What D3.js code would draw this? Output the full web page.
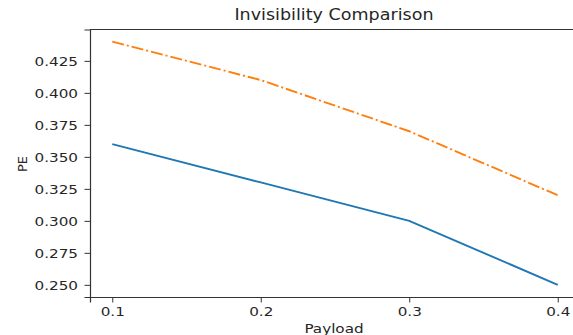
<!DOCTYPE html>
<html lang="en">
<head>
    <meta charset="UTF-8">
    <title>Invisibility Comparison</title>
    <script src="https://d3js.org/d3.v7.min.js"></script>
    <style>
        body {margin: 0; background: white;}
        text {font-family: "DejaVu Sans", sans-serif; fill: #262626;}
    </style>
</head>
<body>
<script>
    const width = 573;
    const height = 335;

    // data
    const payload = [0.1, 0.2, 0.3, 0.4];
    const peBlue = [0.36, 0.33, 0.30, 0.25];
    const peOrange = [0.44, 0.41, 0.37, 0.32];
    const xTicks = [0.1, 0.2, 0.3, 0.4];
    const yTicks = [0.25, 0.275, 0.3, 0.325, 0.35, 0.375, 0.4, 0.425];

    const stretch = 1.17; // the source picture is a bit wider than tall
    const margin = {left: 90, top: 29.5, right: -7, bottom: 38};
    const svg = d3.select("body").append("svg")
            .attr("width", width).attr("height", height);

    const x = d3.scaleLinear().domain([0.085, 0.415])
            .range([margin.left, width - margin.right]);
    const y = d3.scaleLinear().domain([0.2405, 0.4495])
            .range([height - margin.bottom, margin.top]);

    const xAxis = svg.append("g")
            .attr("transform", `translate(0,${height - margin.bottom})`)
            .call(d3.axisBottom(x).tickValues(xTicks).tickFormat(d3.format(".1f"))
                    .tickSizeOuter(0).tickSize(5.5).tickPadding(4));
    const yAxis = svg.append("g")
            .attr("transform", `translate(${margin.left},0)`)
            .call(d3.axisLeft(y).tickValues(yTicks).tickFormat(d3.format(".3f"))
                    .tickSizeOuter(0).tickSize(5.5).tickPadding(6.5));

    [xAxis, yAxis].forEach(g => {
        g.selectAll("text").style("font-size", "13px").style("font-family", "DejaVu Sans")
                .attr("fill", "#262626");
        g.selectAll("line").attr("stroke", "#333");
        g.select(".domain").attr("stroke", "#333").attr("stroke-width", 1.2);
    });
    xAxis.selectAll("text").attr("transform", `scale(${stretch},1)`);
    yAxis.selectAll("text")
            .attr("x", -12 / stretch)
            .attr("transform", `scale(${stretch},1)`);

    // top spine
    svg.append("line")
            .attr("x1", margin.left).attr("x2", width)
            .attr("y1", margin.top).attr("y2", margin.top)
            .attr("stroke", "#333").attr("stroke-width", 1.2);

    const line = d3.line().x((d, i) => x(payload[i])).y(d => y(d));

    svg.append("path")
            .datum(peBlue)
            .attr("d", line)
            .attr("fill", "none")
            .attr("stroke", "#1f77b4")
            .attr("stroke-width", 1.9);

    svg.append("path")
            .datum(peOrange)
            .attr("d", line)
            .attr("fill", "none")
            .attr("stroke", "#ff7f0e")
            .attr("stroke-width", 1.9)
            .attr("stroke-dasharray", "12,3,2,3");

    svg.append("text")
            .attr("transform", `translate(334,19.5) scale(${stretch},1)`)
            .attr("text-anchor", "middle")
            .style("font-size", "15px")
            .text("Invisibility Comparison");

    svg.append("text")
            .attr("transform", `translate(334,332.5) scale(${stretch},1)`)
            .attr("text-anchor", "middle")
            .style("font-size", "13px")
            .text("Payload");

    svg.append("text")
            .attr("transform", "translate(26.7,164) rotate(-90)")
            .attr("text-anchor", "middle")
            .style("font-size", "13px")
            .text("PE");
</script>
</body>
</html>
